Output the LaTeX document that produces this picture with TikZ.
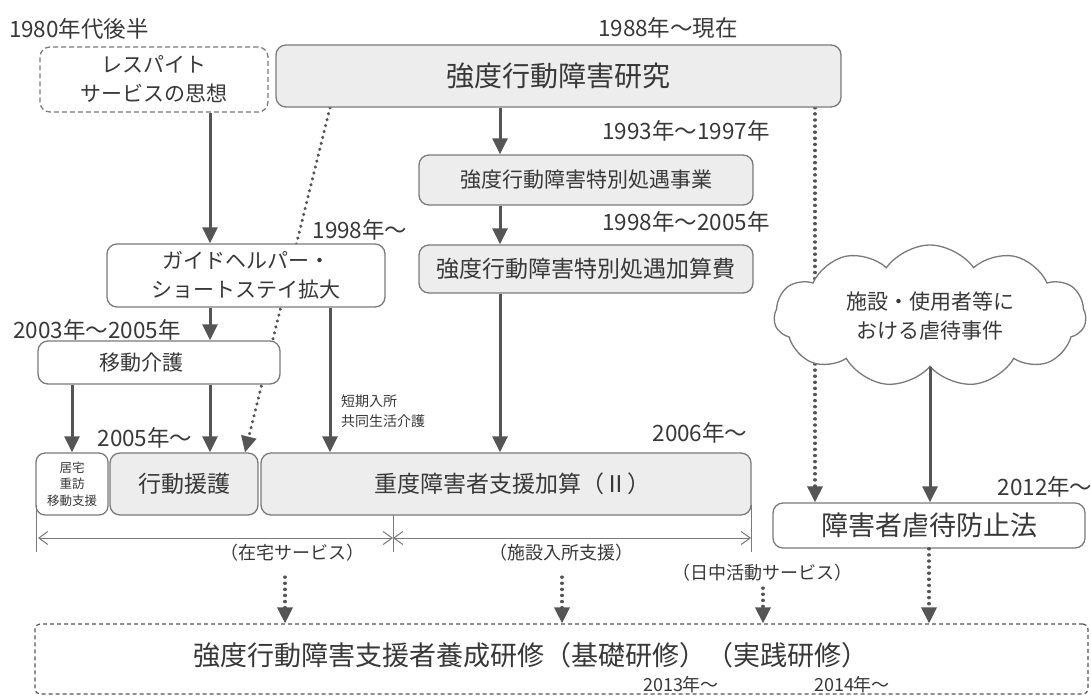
\documentclass[tikz,border=0pt]{standalone}
\usepackage{fontspec}
\setmainfont{Noto Sans CJK JP}
\usetikzlibrary{arrows.meta,shapes.symbols,backgrounds}
\definecolor{tx}{HTML}{383838}
\definecolor{ln}{HTML}{555555}
\definecolor{bd}{HTML}{7A7A7A}
\definecolor{fl}{HTML}{EDEDED}
\begin{document}
\begin{tikzpicture}[x=1pt,y=-1pt,
 box/.style={draw=bd, line width=1.3pt, rounded corners=10pt, text=tx, align=center, inner sep=0pt},
 gbox/.style={box, fill=fl},
 wbox/.style={box, fill=white},
 arr/.style={draw=ln, line width=3pt, -{Triangle[length=16pt,width=15pt]}},
 dotarr/.style={draw=ln, line width=3.2pt, line cap=round, dash pattern=on 0.3pt off 5.8pt, -{Triangle[length=16pt,width=15pt]}},
 dim/.style={draw=bd, line width=1pt},
 darr/.style={dim, {Straight Barb[length=9pt,width=13pt]}-{Straight Barb[length=9pt,width=13pt]}},
 lab/.style={text=tx, inner sep=0pt},
 f14/.style={font=\fontsize{14}{20}\selectfont},
 f13/.style={font=\fontsize{12.5}{16.5}\selectfont},
 f18/.style={font=\fontsize{18}{22}\selectfont},
 f22/.style={font=\fontsize{22.5}{26}\selectfont},
 f21/.style={font=\fontsize{21}{29}\selectfont},
 f23/.style={font=\fontsize{23}{28}\selectfont},
 f27/.style={font=\fontsize{27}{32}\selectfont},
 f28/.style={font=\fontsize{28}{32}\selectfont},
]
\useasboundingbox (0,0) rectangle (1091,697);

% boxes
\node[box, dashed, dash pattern=on 5pt off 3pt, fill=white, minimum width=228pt, minimum height=65pt, f21] (resp) at (154,79.5) {レスパイト\\サービスの思想};
\node[gbox, minimum width=565pt, minimum height=62pt, f28] (top) at (558.5,76) {強度行動障害研究};
\node[gbox, minimum width=334pt, minimum height=50pt, f21] (toku1) at (586,180) {強度行動障害特別処遇事業};
\node[gbox, minimum width=334pt, minimum height=48pt, f23] (toku2) at (586,269) {強度行動障害特別処遇加算費};
\node[wbox, minimum width=278pt, minimum height=63pt, f21] (guide) at (246,275.5) {ガイドヘルパー・\\ショートステイ拡大};
\node[wbox, minimum width=242pt, minimum height=43pt, label={[lab,f21,xshift=-18pt]center:移動介護}] (ido) at (159,362.5) {};
\node[wbox, minimum width=72pt, minimum height=62pt, f13, rounded corners=9pt] (kyotaku) at (72,484) {居宅\\重訪\\移動支援};
\node[gbox, minimum width=148pt, minimum height=62pt, f23] (kodo) at (184,484) {行動援護};
\node[gbox, minimum width=490pt, minimum height=62pt, f23] (judo) at (506,484) {\hspace*{12pt}重度障害者支援加算（Ⅱ）};
\node[cloud, draw=bd, fill=white, line width=1.3pt, cloud puffs=11, cloud puff arc=110, aspect=2.2, minimum width=312pt, minimum height=142pt, inner sep=0pt, text=tx, align=center, f21] (cloud) at (930,316) {施設・使用者等に\\おける虐待事件};
\node[wbox, minimum width=312pt, minimum height=45pt, f27] (gyaku) at (929,525.5) {障害者虐待防止法};
\node[draw=ln, line width=1.2pt, dash pattern=on 4pt off 3pt, rounded corners=5pt, minimum width=1053pt, minimum height=70pt, inner sep=0pt] (bottom) at (561.5,659) {};
\node[lab, f27] (btext) at (531,655) {強度行動障害支援者養成研修（基礎研修）（実践研修）};
\node[lab, f18] (y2013) at (681,685) {2013年～};
\node[lab, f18] (y2014) at (852,685) {2014年～};

% year labels
\node[lab, f22] (t1980) at (79,29) {1980年代後半};
\node[lab, f22] (t1988) at (668,28) {1988年～現在};
\node[lab, f22] (t1993) at (686,131) {1993年～1997年};
\node[lab, f22] (t1998b) at (686,222) {1998年～2005年};
\node[lab, f22] (t1998) at (360,230) {1998年～};
\node[lab, f22] (t2003) at (97,330) {2003年～2005年};
\node[lab, f22] (t2005) at (145,438) {2005年～};
\node[lab, f22] (t2006) at (700,433) {2006年～};
\node[lab, f22] (t2012) at (1045,487) {2012年～};
\node[lab, f14, align=left, anchor=north west] (short) at (341,395) {短期入所\\共同生活介護};
\node[lab, f18] (zaitaku) at (292,553) {（在宅サービス）};
\node[lab, f18] (shisetsu) at (561,553) {（施設入所支援）};
\node[lab, f18] (nitchu) at (762,573) {（日中活動サービス）};

% helper coordinates
\coordinate (xA) at (210,0);
\coordinate (xB) at (330,0);
\coordinate (xC) at (500,0);
\coordinate (xD) at (815,0);
\coordinate (d1e) at (245,0);
\coordinate (s4) at (285,577);
\coordinate (s5) at (562,577);
\coordinate (s6) at (763,588);

% background connectors (hidden behind boxes)
\begin{pgfonlayer}{background}
\fill[white] (0,0) rectangle (1091,697);
\draw[dotarr] (top.south -| xB) -- (kodo.north -| d1e);
\draw[dotarr] (top.south -| xD) -- (gyaku.north -| xD);
\end{pgfonlayer}

% solid arrows
\draw[arr] (resp.south -| xA) -- (guide.north -| xA);
\draw[arr] (guide.south -| xA) -- (ido.north -| xA);
\draw[arr] (ido.south -| kyotaku.north) -- (kyotaku.north);
\draw[arr] (ido.south -| xA) -- (kodo.north -| xA);
\draw[arr] (guide.south -| xB) -- (judo.north -| xB);
\draw[arr] (top.south -| xC) -- (toku1.north -| xC);
\draw[arr] (toku1.south -| xC) -- (toku2.north -| xC);
\draw[arr] (toku2.south -| xC) -- (judo.north -| xC);
\draw[arr] (cloud.south) -- (gyaku.north -| cloud.south);

% dotted arrows to bottom
\draw[dotarr] (gyaku.south) -- (bottom.north -| gyaku.south);
\draw[dotarr] (s4) -- (bottom.north -| s4);
\draw[dotarr] (s5) -- (bottom.north -| s5);
\draw[dotarr] (s6) -- (bottom.north -| s6);

% dimension lines
\coordinate (k1) at (36,505);
\coordinate (k2) at (393,515);
\coordinate (k3) at (751,505);
\coordinate (kb) at (0,552);
\coordinate (hy) at (0,538);
\draw[dim] (k1) -- (k1 |- kb);
\draw[dim] (k2) -- (k2 |- kb);
\draw[dim] (k3) -- (k3 |- kb);
\draw[darr] ([xshift=2pt]k1 |- hy) -- (k2 |- hy);
\draw[darr] (k2 |- hy) -- (k3 |- hy);
\end{tikzpicture}
\end{document}
